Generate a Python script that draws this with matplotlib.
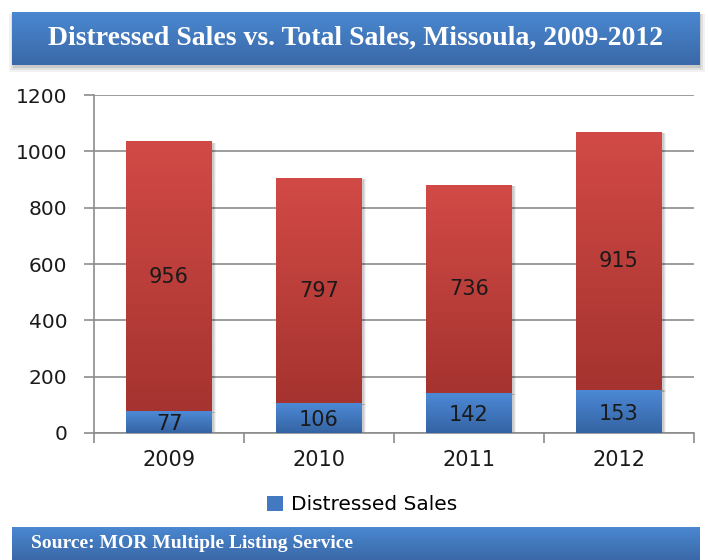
import numpy as np
import matplotlib
matplotlib.use("Agg")
import matplotlib.pyplot as plt
from matplotlib.patches import Rectangle
from matplotlib.colors import LinearSegmentedColormap


years = ["2009", "2010", "2011", "2012"]
distressed = [77, 106, 142, 153]
other_sales = [956, 797, 736, 915]
y_ticks = [0, 200, 400, 600, 800, 1000, 1200]

title = "Distressed Sales vs. Total Sales, Missoula, 2009-2012"
source = "Source: MOR Multiple Listing Service"

red_cmap = LinearSegmentedColormap.from_list("red", ["#a5332f", "#d24a46"])
blue_cmap = LinearSegmentedColormap.from_list("blue", ["#3463a3", "#4d8ad6"])
banner_cmap = LinearSegmentedColormap.from_list("banner", ["#3a68a8", "#4a88d0"])

grad = np.linspace(0, 1, 256).reshape(-1, 1)


def gradient_bar(ax, x, bottom, height, width, cmap):
    # soft shadow first, then the vertical gradient fill
    for k, a in enumerate([0.05, 0.07, 0.09]):
        off = 0.012 + 0.006 * (2 - k)
        ax.add_patch(Rectangle((x - width / 2 + off * 0.3, bottom - 6),
                               width + off, height + 4, color="black",
                               alpha=a, lw=0, zorder=2))
    ax.imshow(grad, cmap=cmap, origin="lower", aspect="auto",
              extent=(x - width / 2, x + width / 2, bottom, bottom + height),
              zorder=3, interpolation="bicubic")


def banner(fig, rect, text, size, x_text, ha):
    bax = fig.add_axes(rect)
    bax.imshow(grad, cmap=banner_cmap, origin="lower", aspect="auto",
               extent=(0, 1, 0, 1))
    bax.set_xlim(0, 1)
    bax.set_ylim(0, 1)
    bax.axis("off")
    bax.text(x_text, 0.5, text, color="white", fontsize=size,
             fontweight="bold", family="Liberation Serif", ha=ha, va="center")
    return bax


fig = plt.figure(figsize=(7.08, 5.60), dpi=100)

# soft drop shadow under the title banner
for k, a in enumerate([0.05, 0.07, 0.1]):
    grow = (2 - k) * 2
    sh = fig.add_axes([(13 - grow) / 708, 1 - (68 + grow) / 560,
                       (688 + 2 * grow) / 708, (54 + grow) / 560])
    sh.add_patch(Rectangle((0, 0), 1, 1, color="black", alpha=a, lw=0))
    sh.axis("off")

banner(fig, [12 / 708, 1 - 65 / 560, 688 / 708, 53 / 560], title, 20, 0.5, "center")
banner(fig, [12 / 708, 0, 688 / 708, 33 / 560], source, 14, 0.028, "left")

ax = fig.add_axes([94 / 708, 1 - 433 / 560, 600 / 708, 338 / 560])
x = np.arange(len(years))
width = 0.57

for i in x:
    gradient_bar(ax, i, 0, distressed[i], width, blue_cmap)
    gradient_bar(ax, i, distressed[i], other_sales[i], width, red_cmap)
    ax.text(i, distressed[i] / 2 - 8, str(distressed[i]), ha="center",
            va="center", fontsize=15, color="#1a1a1a", zorder=5)
    ax.text(i, distressed[i] + other_sales[i] / 2, str(other_sales[i]),
            ha="center", va="center", fontsize=15, color="#1a1a1a", zorder=5)

ax.set_xlim(-0.5, len(years) - 0.5)
ax.set_ylim(0, 1200)
ax.set_yticks(y_ticks)
ax.set_yticklabels([str(t) for t in y_ticks])
ax.yaxis.grid(True, color="#8c8c8c", lw=1.2, zorder=0)
ax.set_axisbelow(True)

ax.set_xticks(np.arange(len(years) + 1) - 0.5, minor=False)
ax.set_xticklabels([""] * (len(years) + 1))
ax.set_xticks(x, minor=True)
ax.set_xticklabels(years, minor=True)
ax.tick_params(axis="x", which="minor", length=0, pad=12, labelsize=15,
               labelcolor="#1a1a1a")
ax.tick_params(axis="x", which="major", length=7, color="#8c8c8c", width=1.2)
ax.tick_params(axis="y", length=7, color="#8c8c8c", width=1.2, labelsize=14.5,
               labelcolor="#1a1a1a", pad=12)

for side in ["top", "right"]:
    ax.spines[side].set_visible(False)
for side in ["left", "bottom"]:
    ax.spines[side].set_color("#8c8c8c")
    ax.spines[side].set_linewidth(1.2)

# legend shows only the distressed series, as in the source chart
handle = Rectangle((0, 0), 1, 1, facecolor="#4279c0")
fig.legend([handle], ["Distressed Sales"], loc="center",
           bbox_to_anchor=(362 / 708, 1 - 505 / 560), frameon=False,
           fontsize=14.5, handlelength=0.8, handleheight=0.8, handletextpad=0.4)

fig.savefig("out.png", dpi=100)
